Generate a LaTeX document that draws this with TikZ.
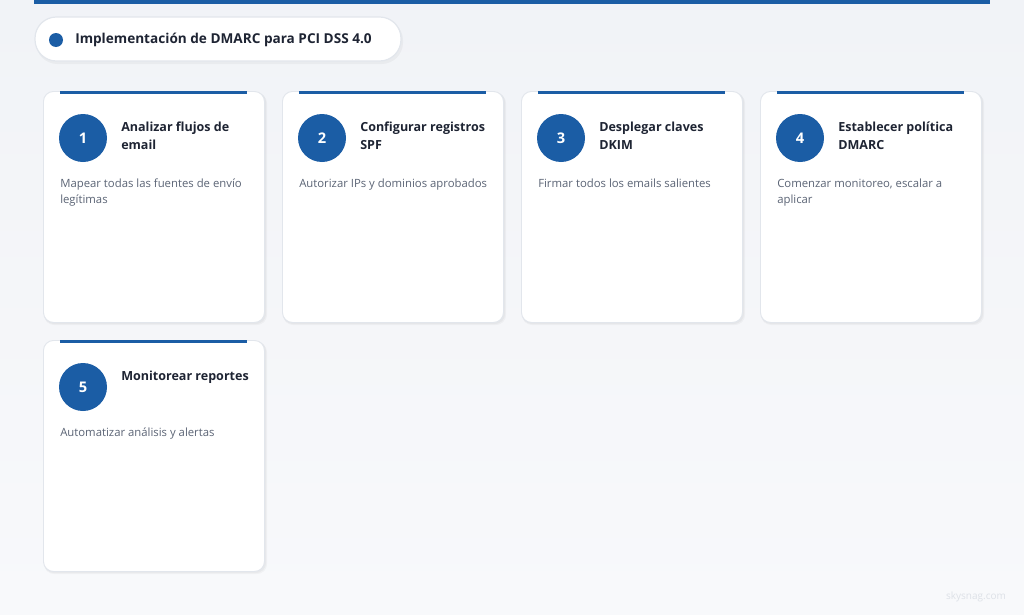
\documentclass[tikz,border=0pt]{standalone}
\usepackage{fontspec}
\setmainfont{Open Sans}
\definecolor{bgA}{HTML}{F1F3F7}
\definecolor{bgB}{HTML}{F8F9FB}
\definecolor{brand}{HTML}{1B5DA5}
\definecolor{cardborder}{HTML}{E2E6EC}
\definecolor{ttlc}{HTML}{1E2433}
\definecolor{descc}{HTML}{5B6475}
\definecolor{wm}{HTML}{DDE1E7}
\begin{document}
\begin{tikzpicture}[x=0.75pt,y=-0.75pt,
  card/.style={draw=cardborder, line width=0.7pt, fill=white, rounded corners=7.5pt,
    minimum width=165.75pt, minimum height=173.25pt, anchor=north west, inner sep=0pt},
  numc/.style={circle, fill=brand, minimum size=36pt, inner sep=0pt, text=white,
    font=\fontsize{11}{12}\selectfont\bfseries},
  ttl/.style={anchor=north west, inner sep=0pt, align=left, text=ttlc,
    font=\fontsize{9.4}{13.5}\selectfont\bfseries},
  desc/.style={anchor=north west, inner sep=0pt, align=left, text=descc,
    font=\fontsize{8.5}{12}\selectfont},
  pill/.style={draw=cardborder, line width=0.9pt, fill=white, rounded corners=16pt,
    minimum width=274.5pt, minimum height=33pt, inner sep=0pt}
]
\useasboundingbox (0,0) rectangle (1024,614);
\shade[top color=bgA, bottom color=bgB] (0,0) rectangle (1024,614);
% top bar
\fill[brand] (34,0) rectangle (990,4);
% title pill
\fill[black, opacity=0.035, rounded corners=16pt] (36,19) rectangle (403,64);
\node[pill] (pill) at (218,39) {};
\node[circle, fill=brand, minimum size=10.5pt, inner sep=0pt] (dot) at (56,40) {};
\node[anchor=west, inner sep=0pt, text=ttlc, font=\fontsize{10.2}{13}\selectfont\bfseries] (title) at (75,40) {Implementación de DMARC para PCI DSS 4.0};
% cards
\foreach \i/\x/\y/\t/\d in {
  1/43/91/{Analizar flujos de\\email}/{Mapear todas las fuentes de envío\\legítimas},
  2/282/91/{Configurar registros\\SPF}/{Autorizar IPs y dominios aprobados},
  3/521/91/{Desplegar claves\\DKIM}/{Firmar todos los emails salientes},
  4/760/91/{Establecer política\\DMARC}/{Comenzar monitoreo, escalar a\\aplicar},
  5/43/340/{Monitorear reportes}/{Automatizar análisis y alertas}}{
  \fill[black, opacity=0.03, rounded corners=7.5pt] (\x+1,\y+2) rectangle (\x+224,\y+234);
  \fill[black, opacity=0.03, rounded corners=7.5pt] (\x+1,\y+1) rectangle (\x+223,\y+233);
  \node[card] (card\i) at (\x,\y) {};
  \fill[brand] (\x+17,\y) rectangle (\x+204,\y+3);
  \node[numc] (num\i) at (\x+40,\y+47) {\i};
  \node[ttl] (ttl\i) at (\x+78,\y+31) {\t};
  \node[desc] (desc\i) at (\x+17,\y+88) {\d};
}
\node[text=wm, font=\fontsize{7.5}{9}\selectfont, inner sep=0pt] (wmark) at (976,597) {skysnag.com};
\end{tikzpicture}
\end{document}
